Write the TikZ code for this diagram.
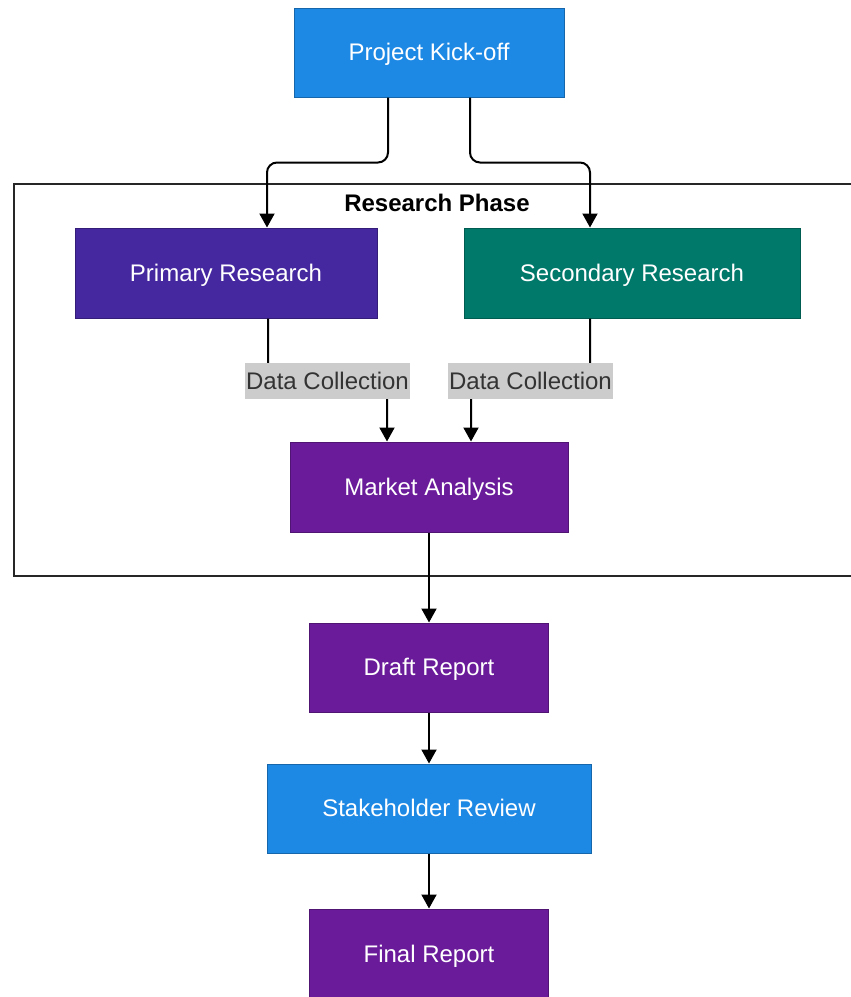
\documentclass[tikz,border=0pt]{standalone}
\usepackage{fontspec}
\setmainfont{Liberation Sans}
\usetikzlibrary{arrows.meta}
\definecolor{kickblue}{HTML}{1E88E5}
\definecolor{deeppurple}{HTML}{4527A0}
\definecolor{tealgreen}{HTML}{00796B}
\definecolor{plum}{HTML}{6A1B9A}
\definecolor{labelgray}{HTML}{CCCCCC}
\definecolor{labeltext}{HTML}{333333}
\begin{document}
\begin{tikzpicture}[
    x=1pt, y=-1pt,
    font=\fontsize{24}{29}\selectfont,
    stepnode/.style={draw=#1!75!black, fill=#1, text=white, line width=1pt, inner sep=0pt, text depth=1pt},
    link/.style={draw=black, line width=2pt, rounded corners=10pt, -{Triangle[length=14pt,width=15pt]}},
    edgelabel/.style={sharp corners, fill=labelgray, text=labeltext, inner xsep=1pt, inner ysep=0pt, minimum height=36pt}
  ]
  \useasboundingbox (0,0) rectangle (851,997);
  \draw[line width=1.8pt, draw=black!85] (14,184) rectangle (880,576);
  \node[font=\fontsize{24}{29}\selectfont\bfseries] (phase) at (437,203) {Research Phase};
  \node[stepnode=kickblue, minimum width=270pt, minimum height=89pt] (kickoff) at (429,52.5) {Project Kick-off};
  \node[stepnode=deeppurple, minimum width=302pt, minimum height=90pt] (primary) at (226,273) {Primary Research};
  \node[stepnode=tealgreen, minimum width=336pt, minimum height=90pt] (secondary) at (632,273) {Secondary Research};
  \node[stepnode=plum, minimum width=278pt, minimum height=90pt] (market) at (429,487) {Market Analysis};
  \node[stepnode=plum, minimum width=239pt, minimum height=89pt] (draft) at (429,667.5) {Draft Report};
  \node[stepnode=kickblue, minimum width=324pt, minimum height=89pt] (review) at (429,808.5) {Stakeholder Review};
  \node[stepnode=plum, minimum width=239pt, minimum height=90pt] (final) at (429,954) {Final Report};
  \draw[link] ([xshift=-41pt]kickoff.south) -- ++(0,65) -| ([xshift=41pt]primary.north);
  \draw[link] ([xshift=41pt]kickoff.south) -- ++(0,65) -| ([xshift=-42pt]secondary.north);
  \draw[link] ([xshift=42pt]primary.south) -- ++(0,62) -| node[edgelabel, pos=0.25] (lblprimary) {Data Collection} ([xshift=-42pt]market.north);
  \draw[link] ([xshift=-42pt]secondary.south) -- ++(0,62) -| node[edgelabel, pos=0.25] (lblsecondary) {Data Collection} ([xshift=42pt]market.north);
  \draw[link] (market) -- (draft);
  \draw[link] (draft) -- (review);
  \draw[link] (review) -- (final);
\end{tikzpicture}
\end{document}
